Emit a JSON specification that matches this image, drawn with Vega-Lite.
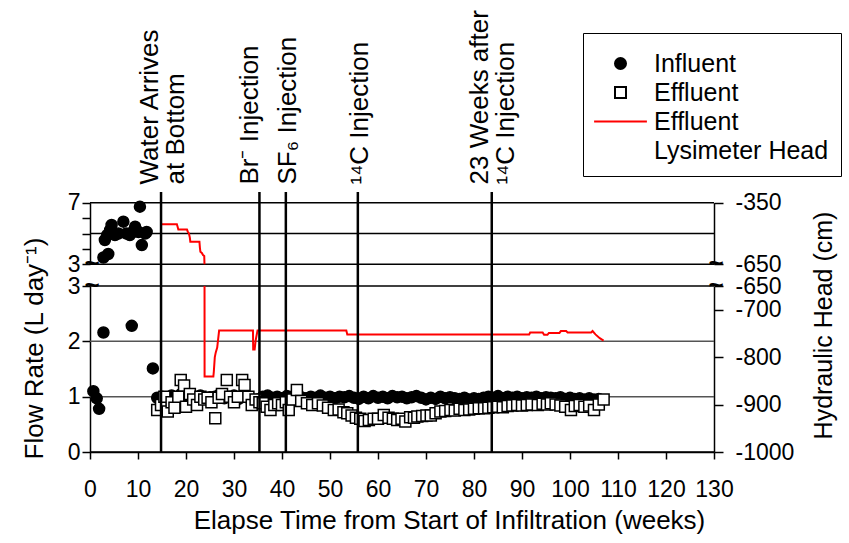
{
  "$schema": "https://vega.github.io/schema/vega-lite/v6.json",
  "width": 624,
  "height": 260,
  "autosize": "none",
  "padding": {"left": 90, "top": 192, "right": 135, "bottom": 91},
  "background": "white",
  "config": {
    "font": "Liberation Sans",
    "view": {"stroke": null},
    "axis": {"domainColor": "black", "tickColor": "black", "labelColor": "black", "titleColor": "black", "labelFontSize": 23, "titleFontSize": 25, "titleFontWeight": "normal", "grid": false, "tickWidth": 1.5, "domainWidth": 1.5, "labelOverlap": false, "labelFlush": false, "labelFont": "Liberation Sans", "titleFont": "Liberation Sans"}
  },
  "datasets": {
    "pts": [
      {"w":0.7,"v":1.1,"s":"Influent"},{"w":1.4,"v":0.97,"s":"Influent"},{"w":1.9,"v":0.78,"s":"Influent"},{"w":2.8,"v":2.16,"s":"Influent"},{"w":8.7,"v":2.28,"s":"Influent"},{"w":13.1,"v":1.51,"s":"Influent"},
      {"w":14,"v":0.98,"s":"Influent"},{"w":15,"v":1.0,"s":"Influent"},{"w":16,"v":0.95,"s":"Influent"},{"w":17,"v":1.02,"s":"Influent"},{"w":18,"v":0.97,"s":"Influent"},{"w":19,"v":1.05,"s":"Influent"},{"w":20,"v":0.98,"s":"Influent"},{"w":21,"v":1.0,"s":"Influent"},{"w":22,"v":0.96,"s":"Influent"},{"w":23,"v":1.02,"s":"Influent"},{"w":24,"v":0.98,"s":"Influent"},{"w":25,"v":0.99,"s":"Influent"},{"w":26,"v":1.0,"s":"Influent"},{"w":27,"v":1.04,"s":"Influent"},{"w":28,"v":0.97,"s":"Influent"},{"w":29,"v":1.0,"s":"Influent"},{"w":30,"v":1.02,"s":"Influent"},{"w":31,"v":0.96,"s":"Influent"},{"w":32,"v":1.0,"s":"Influent"},{"w":33,"v":0.98,"s":"Influent"},{"w":34,"v":0.92,"s":"Influent"},{"w":35,"v":0.95,"s":"Influent"},{"w":36,"v":1.0,"s":"Influent"},{"w":37,"v":1.02,"s":"Influent"},{"w":38,"v":0.98,"s":"Influent"},{"w":39,"v":1.0,"s":"Influent"},{"w":40,"v":0.97,"s":"Influent"},{"w":41,"v":1.01,"s":"Influent"},{"w":42,"v":1.0,"s":"Influent"},{"w":43,"v":1.03,"s":"Influent"},{"w":44,"v":0.99,"s":"Influent"},{"w":45,"v":0.97,"s":"Influent"},{"w":46,"v":1.0,"s":"Influent"},{"w":47,"v":0.98,"s":"Influent"},{"w":48,"v":1.02,"s":"Influent"},{"w":49,"v":0.98,"s":"Influent"},{"w":50,"v":1.0,"s":"Influent"},{"w":51,"v":0.97,"s":"Influent"},{"w":52,"v":1.0,"s":"Influent"},{"w":53,"v":0.99,"s":"Influent"},{"w":54,"v":1.01,"s":"Influent"},{"w":55,"v":0.98,"s":"Influent"},{"w":56,"v":0.96,"s":"Influent"},{"w":57,"v":1.0,"s":"Influent"},{"w":58,"v":0.97,"s":"Influent"},{"w":59,"v":1.01,"s":"Influent"},{"w":60,"v":0.98,"s":"Influent"},{"w":61,"v":1.0,"s":"Influent"},{"w":62,"v":0.97,"s":"Influent"},{"w":63,"v":1.01,"s":"Influent"},{"w":64,"v":0.99,"s":"Influent"},{"w":65,"v":1.0,"s":"Influent"},{"w":66,"v":0.97,"s":"Influent"},{"w":67,"v":0.99,"s":"Influent"},{"w":68,"v":1.01,"s":"Influent"},{"w":69,"v":0.98,"s":"Influent"},{"w":70,"v":0.95,"s":"Influent"},{"w":71,"v":0.98,"s":"Influent"},{"w":72,"v":0.96,"s":"Influent"},{"w":73,"v":1.0,"s":"Influent"},{"w":74,"v":0.97,"s":"Influent"},{"w":75,"v":0.99,"s":"Influent"},{"w":76,"v":0.97,"s":"Influent"},{"w":77,"v":0.96,"s":"Influent"},{"w":78,"v":0.98,"s":"Influent"},{"w":79,"v":0.95,"s":"Influent"},{"w":80,"v":0.97,"s":"Influent"},{"w":81,"v":0.96,"s":"Influent"},{"w":82,"v":0.98,"s":"Influent"},{"w":83,"v":1.0,"s":"Influent"},{"w":84,"v":0.98,"s":"Influent"},{"w":85,"v":1.01,"s":"Influent"},{"w":86,"v":0.97,"s":"Influent"},{"w":87,"v":1.0,"s":"Influent"},{"w":88,"v":0.98,"s":"Influent"},{"w":89,"v":1.0,"s":"Influent"},{"w":90,"v":0.97,"s":"Influent"},{"w":91,"v":0.99,"s":"Influent"},{"w":92,"v":0.98,"s":"Influent"},{"w":93,"v":1.0,"s":"Influent"},{"w":94,"v":0.97,"s":"Influent"},{"w":95,"v":0.99,"s":"Influent"},{"w":96,"v":0.98,"s":"Influent"},{"w":97,"v":0.97,"s":"Influent"},{"w":98,"v":0.99,"s":"Influent"},{"w":99,"v":0.96,"s":"Influent"},{"w":100,"v":0.98,"s":"Influent"},{"w":101,"v":0.96,"s":"Influent"},{"w":102,"v":0.97,"s":"Influent"},{"w":103,"v":0.95,"s":"Influent"},{"w":104,"v":0.97,"s":"Influent"},{"w":105,"v":0.95,"s":"Influent"},{"w":106,"v":0.96,"s":"Influent"},
      {"w":14.0,"v":0.76,"s":"Effluent"},{"w":14.8,"v":0.85,"s":"Effluent"},{"w":15.5,"v":1.0,"s":"Effluent"},{"w":16.2,"v":0.73,"s":"Effluent"},{"w":17,"v":0.9,"s":"Effluent"},{"w":17.6,"v":0.8,"s":"Effluent"},{"w":18.4,"v":1.0,"s":"Effluent"},{"w":18.9,"v":1.3,"s":"Effluent"},{"w":19.6,"v":1.2,"s":"Effluent"},{"w":20,"v":0.82,"s":"Effluent"},{"w":20.8,"v":1.05,"s":"Effluent"},{"w":21.5,"v":0.95,"s":"Effluent"},{"w":22.3,"v":0.85,"s":"Effluent"},{"w":23,"v":1.0,"s":"Effluent"},{"w":23.8,"v":0.95,"s":"Effluent"},{"w":24.5,"v":0.98,"s":"Effluent"},{"w":25.3,"v":0.9,"s":"Effluent"},{"w":26.1,"v":0.61,"s":"Effluent"},{"w":26.8,"v":0.98,"s":"Effluent"},{"w":27.5,"v":1.05,"s":"Effluent"},{"w":28.5,"v":1.3,"s":"Effluent"},{"w":29.2,"v":1.0,"s":"Effluent"},{"w":30,"v":0.9,"s":"Effluent"},{"w":30.8,"v":1.0,"s":"Effluent"},{"w":31.7,"v":1.3,"s":"Effluent"},{"w":32.2,"v":1.21,"s":"Effluent"},{"w":33,"v":1.0,"s":"Effluent"},{"w":33.7,"v":0.85,"s":"Effluent"},{"w":34.5,"v":0.95,"s":"Effluent"},{"w":35.3,"v":0.9,"s":"Effluent"},{"w":36,"v":0.88,"s":"Effluent"},{"w":36.8,"v":0.82,"s":"Effluent"},{"w":37.6,"v":0.76,"s":"Effluent"},{"w":38.4,"v":0.85,"s":"Effluent"},{"w":39.2,"v":0.88,"s":"Effluent"},{"w":40,"v":0.85,"s":"Effluent"},{"w":40.8,"v":0.9,"s":"Effluent"},{"w":41.4,"v":0.76,"s":"Effluent"},{"w":42.2,"v":0.95,"s":"Effluent"},{"w":43.1,"v":1.12,"s":"Effluent"},{"w":44,"v":0.92,"s":"Effluent"},{"w":45.2,"v":0.88,"s":"Effluent"},{"w":46.3,"v":0.85,"s":"Effluent"},{"w":47.5,"v":0.88,"s":"Effluent"},{"w":48.5,"v":0.84,"s":"Effluent"},{"w":49.6,"v":0.8,"s":"Effluent"},{"w":50.8,"v":0.76,"s":"Effluent"},{"w":51.8,"v":0.77,"s":"Effluent"},{"w":52.8,"v":0.72,"s":"Effluent"},{"w":53.6,"v":0.7,"s":"Effluent"},{"w":54.5,"v":0.66,"s":"Effluent"},{"w":55.4,"v":0.62,"s":"Effluent"},{"w":56.3,"v":0.6,"s":"Effluent"},{"w":57.2,"v":0.56,"s":"Effluent"},{"w":58.1,"v":0.58,"s":"Effluent"},{"w":59.1,"v":0.6,"s":"Effluent"},{"w":60,"v":0.6,"s":"Effluent"},{"w":61.2,"v":0.67,"s":"Effluent"},{"w":62.2,"v":0.62,"s":"Effluent"},{"w":63.1,"v":0.6,"s":"Effluent"},{"w":64,"v":0.58,"s":"Effluent"},{"w":64.9,"v":0.6,"s":"Effluent"},{"w":65.7,"v":0.55,"s":"Effluent"},{"w":66.7,"v":0.63,"s":"Effluent"},{"w":67.5,"v":0.62,"s":"Effluent"},{"w":68.2,"v":0.64,"s":"Effluent"},{"w":69.2,"v":0.65,"s":"Effluent"},{"w":70.1,"v":0.66,"s":"Effluent"},{"w":71,"v":0.66,"s":"Effluent"},{"w":72,"v":0.7,"s":"Effluent"},{"w":73,"v":0.73,"s":"Effluent"},{"w":74,"v":0.74,"s":"Effluent"},{"w":75.1,"v":0.76,"s":"Effluent"},{"w":76,"v":0.75,"s":"Effluent"},{"w":77,"v":0.78,"s":"Effluent"},{"w":78,"v":0.76,"s":"Effluent"},{"w":79,"v":0.77,"s":"Effluent"},{"w":80,"v":0.78,"s":"Effluent"},{"w":81,"v":0.79,"s":"Effluent"},{"w":82.1,"v":0.79,"s":"Effluent"},{"w":83,"v":0.8,"s":"Effluent"},{"w":84,"v":0.81,"s":"Effluent"},{"w":85,"v":0.82,"s":"Effluent"},{"w":86,"v":0.81,"s":"Effluent"},{"w":87,"v":0.83,"s":"Effluent"},{"w":88,"v":0.84,"s":"Effluent"},{"w":89,"v":0.85,"s":"Effluent"},{"w":90,"v":0.84,"s":"Effluent"},{"w":91,"v":0.85,"s":"Effluent"},{"w":92,"v":0.86,"s":"Effluent"},{"w":93.3,"v":0.85,"s":"Effluent"},{"w":94.3,"v":0.87,"s":"Effluent"},{"w":95.2,"v":0.86,"s":"Effluent"},{"w":96,"v":0.88,"s":"Effluent"},{"w":97,"v":0.86,"s":"Effluent"},{"w":98,"v":0.84,"s":"Effluent"},{"w":99,"v":0.82,"s":"Effluent"},{"w":100.2,"v":0.76,"s":"Effluent"},{"w":101,"v":0.83,"s":"Effluent"},{"w":102,"v":0.85,"s":"Effluent"},{"w":103,"v":0.82,"s":"Effluent"},{"w":104,"v":0.84,"s":"Effluent"},{"w":105,"v":0.76,"s":"Effluent"},{"w":106,"v":0.86,"s":"Effluent"},{"w":107,"v":0.95,"s":"Effluent"}
    ],
    "ptsUp": [
      {"w":2.8,"v":3.44,"s":"Influent"},{"w":3.8,"v":3.67,"s":"Influent"},{"w":3.1,"v":4.58,"s":"Influent"},{"w":3.6,"v":4.9,"s":"Influent"},{"w":4.2,"v":5.23,"s":"Influent"},{"w":4.5,"v":5.55,"s":"Influent"},{"w":5.2,"v":4.9,"s":"Influent"},{"w":5.9,"v":5.0,"s":"Influent"},{"w":6.95,"v":5.77,"s":"Influent"},{"w":7.6,"v":5.0,"s":"Influent"},{"w":8.3,"v":4.9,"s":"Influent"},{"w":8.9,"v":5.1,"s":"Influent"},{"w":9.4,"v":5.44,"s":"Influent"},{"w":10.4,"v":6.74,"s":"Influent"},{"w":10.1,"v":5.1,"s":"Influent"},{"w":10.8,"v":4.25,"s":"Influent"},{"w":11.5,"v":5.0,"s":"Influent"},{"w":11.8,"v":5.1,"s":"Influent"}
    ],
    "headUp": [
      {"w":14.95,"h":-455,"s":"Effluent Lysimeter Head"},{"w":18.1,"h":-455,"s":"Effluent Lysimeter Head"},{"w":18.25,"h":-467,"s":"Effluent Lysimeter Head"},{"w":18.4,"h":-480,"s":"Effluent Lysimeter Head"},{"w":20.2,"h":-480,"s":"Effluent Lysimeter Head"},{"w":20.35,"h":-490,"s":"Effluent Lysimeter Head"},{"w":20.6,"h":-499,"s":"Effluent Lysimeter Head"},{"w":20.8,"h":-520,"s":"Effluent Lysimeter Head"},{"w":20.9,"h":-540,"s":"Effluent Lysimeter Head"},{"w":22.8,"h":-540,"s":"Effluent Lysimeter Head"},{"w":22.9,"h":-570,"s":"Effluent Lysimeter Head"},{"w":23.0,"h":-589,"s":"Effluent Lysimeter Head"},{"w":23.3,"h":-595,"s":"Effluent Lysimeter Head"},{"w":23.55,"h":-605,"s":"Effluent Lysimeter Head"},{"w":23.8,"h":-610,"s":"Effluent Lysimeter Head"},{"w":23.85,"h":-650,"s":"Effluent Lysimeter Head"}
    ],
    "headLow": [
      {"w":23.86,"h":-650,"s":"Effluent Lysimeter Head"},{"w":23.87,"h":-841,"s":"Effluent Lysimeter Head"},{"w":25.7,"h":-841,"s":"Effluent Lysimeter Head"},{"w":25.8,"h":-830,"s":"Effluent Lysimeter Head"},{"w":26.0,"h":-800,"s":"Effluent Lysimeter Head"},{"w":26.2,"h":-790,"s":"Effluent Lysimeter Head"},{"w":26.5,"h":-780,"s":"Effluent Lysimeter Head"},{"w":26.9,"h":-744,"s":"Effluent Lysimeter Head"},{"w":33.95,"h":-744,"s":"Effluent Lysimeter Head"},{"w":34.0,"h":-784,"s":"Effluent Lysimeter Head"},{"w":34.3,"h":-784,"s":"Effluent Lysimeter Head"},{"w":34.5,"h":-765,"s":"Effluent Lysimeter Head"},{"w":34.9,"h":-744,"s":"Effluent Lysimeter Head"},{"w":53.4,"h":-744,"s":"Effluent Lysimeter Head"},{"w":53.6,"h":-752,"s":"Effluent Lysimeter Head"},{"w":91.5,"h":-752,"s":"Effluent Lysimeter Head"},{"w":91.7,"h":-748,"s":"Effluent Lysimeter Head"},{"w":94.3,"h":-748,"s":"Effluent Lysimeter Head"},{"w":94.6,"h":-753,"s":"Effluent Lysimeter Head"},{"w":95.3,"h":-753,"s":"Effluent Lysimeter Head"},{"w":95.6,"h":-749,"s":"Effluent Lysimeter Head"},{"w":97.8,"h":-749,"s":"Effluent Lysimeter Head"},{"w":98.1,"h":-745,"s":"Effluent Lysimeter Head"},{"w":99.2,"h":-745,"s":"Effluent Lysimeter Head"},{"w":99.5,"h":-748,"s":"Effluent Lysimeter Head"},{"w":104.4,"h":-748,"s":"Effluent Lysimeter Head"},{"w":104.7,"h":-745,"s":"Effluent Lysimeter Head"},{"w":105.3,"h":-752,"s":"Effluent Lysimeter Head"},{"w":106.2,"h":-760,"s":"Effluent Lysimeter Head"},{"w":107.0,"h":-765,"s":"Effluent Lysimeter Head"}
    ],
    "events": [
      {"w":14.8,"t":"Water Arrives at Bottom"},
      {"w":35.3,"t":"Br⁻ Injection"},
      {"w":40.8,"t":"SF₆ Injection"},
      {"w":55.8,"t":"¹⁴C Injection"},
      {"w":83.7,"t":"23 Weeks after ¹⁴C Injection"}
    ]
  },
  "layer": [
    {
      "encoding": {"y": {"field": "v", "type": "quantitative", "scale": {"domain": [0, 3], "range": [260, 94], "nice": false, "zero": false},
        "axis": {"orient": "left", "domain": true, "values": [0,1,2,3], "tickSize": 8, "labelPadding": 2, "title": "Flow Rate (L day⁻¹)", "titleY": 156, "titlePadding": 20, "titleFontSize": 26}}},
      "layer": [
        {"data": {"values": [{"v": 1}, {"v": 2}]}, "mark": {"type": "rule", "color": "#555555", "strokeWidth": 1.5},
         "encoding": {}},
        {"data": {"values": [{"v": 0}, {"v": 3}]}, "mark": {"type": "rule", "color": "black", "strokeWidth": 1.5},
         "encoding": {}},
        {"data": {"name": "pts"}, "mark": {"type": "point", "opacity": 1, "strokeWidth": 1.5, "size": 121},
         "encoding": {
           "x": {"field": "w", "type": "quantitative",
             "scale": {"domain": [0, 130], "nice": false, "zero": false},
             "axis": {"orient": "bottom", "title": "Elapse Time from Start of Infiltration (weeks)", "domain": true, "values": [0,10,20,30,40,50,60,70,80,90,100,110,120,130], "tickSize": 7, "labelPadding": 19, "titlePadding": 6, "titleX": 359, "titleFontSize": 26}},
           "shape": {"field": "s", "type": "nominal", "scale": {"domain": ["Influent", "Effluent", "Effluent Lysimeter Head", "Lysimeter Head"], "range": ["circle", "square", "M-4.8,0L4.8,0", "circle"]},
             "legend": {"orient": "none", "legendX": 493, "legendY": -159, "title": "\u00a0", "titleFontSize": 4, "titlePadding": 2, "labelFontSize": 25, "labelFont": "Liberation Sans", "labelColor": "black", "labelLimit": 400, "symbolSize": 121, "symbolStrokeWidth": 2, "strokeColor": "black", "fillColor": "white", "padding": 12, "rowPadding": 3, "symbolOffset": 13, "labelOffset": 21, "labelExpr": "datum.value == 'Effluent Lysimeter Head' ? 'Effluent' : datum.value == 'Lysimeter Head' ? '\u00a0Lysimeter Head' : datum.label"}},
           "fill": {"field": "s", "type": "nominal", "scale": {"domain": ["Influent", "Effluent", "Effluent Lysimeter Head", "Lysimeter Head"], "range": ["black", "white", "transparent", "transparent"]},
             "legend": {"orient": "none", "legendX": 493, "legendY": -159, "title": "\u00a0", "titleFontSize": 4, "titlePadding": 2, "labelFontSize": 25, "labelFont": "Liberation Sans", "labelColor": "black", "labelLimit": 400, "symbolSize": 121, "symbolStrokeWidth": 2, "strokeColor": "black", "fillColor": "white", "padding": 12, "rowPadding": 3, "symbolOffset": 13, "labelOffset": 21, "labelExpr": "datum.value == 'Effluent Lysimeter Head' ? 'Effluent' : datum.value == 'Lysimeter Head' ? '\u00a0Lysimeter Head' : datum.label"}},
           "stroke": {"field": "s", "type": "nominal", "scale": {"domain": ["Influent", "Effluent", "Effluent Lysimeter Head", "Lysimeter Head"], "range": ["black", "black", "red", "transparent"]},
             "legend": {"orient": "none", "legendX": 493, "legendY": -159, "title": "\u00a0", "titleFontSize": 4, "titlePadding": 2, "labelFontSize": 25, "labelFont": "Liberation Sans", "labelColor": "black", "labelLimit": 400, "symbolSize": 121, "symbolStrokeWidth": 2, "strokeColor": "black", "fillColor": "white", "padding": 12, "rowPadding": 3, "symbolOffset": 13, "labelOffset": 21, "labelExpr": "datum.value == 'Effluent Lysimeter Head' ? 'Effluent' : datum.value == 'Lysimeter Head' ? '\u00a0Lysimeter Head' : datum.label"}}
         }},
        {"data": {"values": [{"w": 0, "v": 3}]}, "mark": {"type": "text", "fontSize": 26, "fontWeight": "bold", "align": "center", "baseline": "middle", "color": "black", "text": "~", "dx": 2},
         "encoding": {"x": {"field": "w", "type": "quantitative"}}}
      ]
    },
    {
      "encoding": {"y": {"field": "v", "type": "quantitative", "scale": {"domain": [3, 7], "range": [72.3, 10.7], "nice": false, "zero": false},
        "axis": {"orient": "left", "domain": true, "values": [3,4,5,6,7], "tickSize": 8, "labelPadding": 2, "title": null, "labelExpr": "datum.value == 3 || datum.value == 7 ? datum.label : ''"}}},
      "layer": [
        {"data": {"values": [{"v": 3}, {"v": 5}, {"v": 7}]}, "mark": {"type": "rule", "color": "black", "strokeWidth": 1.5},
         "encoding": {}},
        {"data": {"name": "ptsUp"}, "mark": {"type": "point", "opacity": 1, "strokeWidth": 1.5, "size": 121},
         "encoding": {
           "x": {"field": "w", "type": "quantitative", "axis": null},
           "shape": {"field": "s", "type": "nominal"},
           "fill": {"field": "s", "type": "nominal"},
           "stroke": {"field": "s", "type": "nominal"}
         }},
        {"data": {"values": [{"w": 0, "v": 3}]}, "mark": {"type": "text", "fontSize": 26, "fontWeight": "bold", "align": "center", "baseline": "middle", "color": "black", "text": "~", "dx": 2},
         "encoding": {"x": {"field": "w", "type": "quantitative", "axis": null}}}
      ]
    },
    {
      "encoding": {"y": {"field": "h", "type": "quantitative", "scale": {"domain": [-1000, -650], "range": [260, 94], "nice": false, "zero": false},
        "axis": {"orient": "right", "domain": true, "values": [-1000,-900,-800,-700,-650], "labelExpr": "'' + datum.value", "tickSize": 9, "labelPadding": 12, "title": "Hydraulic Head (cm)", "titleAngle": 270, "titleBaseline": "top", "titleY": 133, "titlePadding": 18, "titleFontSize": 25}}},
      "layer": [
        {"data": {"name": "headLow"}, "mark": {"type": "line", "strokeWidth": 2},
         "encoding": {"x": {"field": "w", "type": "quantitative", "axis": null}, "stroke": {"field": "s", "type": "nominal"}, "order": {"value": null}}},
        {"data": {"values": [{"w": 130, "h": -650}]}, "mark": {"type": "text", "fontSize": 26, "fontWeight": "bold", "align": "center", "baseline": "middle", "color": "black", "text": "~", "dx": 2},
         "encoding": {"x": {"field": "w", "type": "quantitative", "axis": null}}}
      ]
    },
    {
      "encoding": {"y": {"field": "h", "type": "quantitative", "scale": {"domain": [-650, -350], "range": [72.3, 10.7], "nice": false, "zero": false},
        "axis": {"orient": "right", "domain": true, "values": [-650,-350], "labelExpr": "'' + datum.value", "tickSize": 9, "labelPadding": 12, "title": null}}},
      "layer": [
        {"data": {"name": "headUp"}, "mark": {"type": "line", "strokeWidth": 2},
         "encoding": {"x": {"field": "w", "type": "quantitative", "axis": null}, "stroke": {"field": "s", "type": "nominal"}, "order": {"value": null}}},
        {"data": {"values": [{"w": 130, "h": -650}]}, "mark": {"type": "text", "fontSize": 26, "fontWeight": "bold", "align": "center", "baseline": "middle", "color": "black", "text": "~", "dx": 2},
         "encoding": {"x": {"field": "w", "type": "quantitative", "axis": null}}}
      ]
    },
    {
      "data": {"name": "events"},
      "mark": {"type": "rule", "color": "black", "strokeWidth": 2.5},
      "encoding": {
        "x": {"field": "w", "type": "quantitative",
          "axis": {"orient": "top", "title": null, "domain": false, "ticks": false, "values": [14.8, 35.3, 40.8, 55.8, 83.7],
            "labelExpr": "datum.value == 14.8 ? ['Water Arrives', 'at Bottom'] : datum.value == 35.3 ? 'Br⁻ Injection' : datum.value == 40.8 ? 'SF₆ Injection' : datum.value == 55.8 ? '¹⁴C Injection' : ['23 Weeks after', '¹⁴C Injection']",
            "labelAngle": 270, "labelAlign": "left", "labelBaseline": "middle", "labelPadding": 8, "labelFontSize": 26, "labelLineHeight": 26, "labelBound": false,
            "labelOffset": {"condition": [{"test": "datum.value == 35.3", "value": -10}, {"test": "datum.value == 14.8 || datum.value == 83.7", "value": -12}], "value": 2}}}
      }
    }
  ],
  "resolve": {"scale": {"y": "independent"}, "axis": {"y": "independent", "x": "independent"}}
}
